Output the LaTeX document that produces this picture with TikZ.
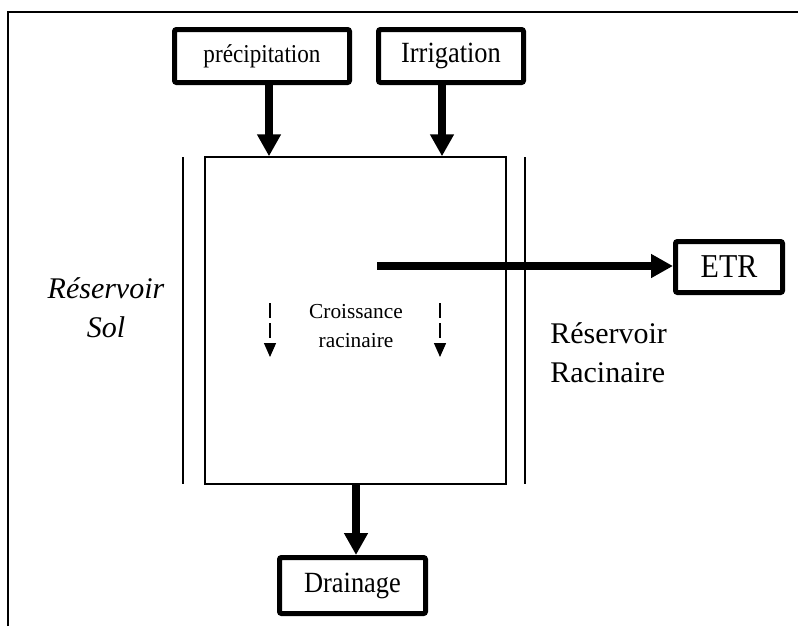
\documentclass[tikz,border=0pt]{standalone}
\usepackage{fontspec}
\setmainfont{Liberation Serif}
\newfontfamily\boxfont[FakeStretch=0.9]{Liberation Serif}
\usetikzlibrary{arrows.meta}
\begin{document}
\begin{tikzpicture}[x=0.75pt,y=-0.75pt,
  inbox/.style={draw,line width=3.75pt,rounded corners=1.5pt,inner sep=0pt,align=center},
  flow/.style={line width=6pt,-{Triangle[length=16.5pt,width=17pt]}},
  rootarrow/.style={line width=1pt,dash pattern=on 11.25pt off 3.75pt,-{Triangle[length=10.5pt,width=9pt]}},
  vline/.style={line width=1pt},
  lbl/.style={inner sep=0pt}]
\useasboundingbox (0,0) rectangle (798,626);
% frame
\draw[line width=1.5pt] (8,626) -- (8,12) -- (798,12);
% main reservoir
\node[draw,line width=1.1pt,minimum width=225.75pt,minimum height=245.25pt,inner sep=0pt] (main) at (355.5,320.5) {};
\coordinate (lt) at (183,157); \coordinate (lb) at (183,484);
\coordinate (rt) at (525,157); \coordinate (rb) at (525,484);
\draw[vline] (lt) -- (lb);
\draw[vline] (rt) -- (rb);
% input/output boxes
\node[inbox,minimum width=131.25pt,minimum height=39.75pt,font=\boxfont\fontsize{19.3}{22}\selectfont] (prec) at (262,56) {précipitation};
\node[inbox,minimum width=108.75pt,minimum height=39.75pt,font=\boxfont\fontsize{22}{24}\selectfont] (irr) at (451,56) {Irrigation};
\node[inbox,minimum width=80.25pt,minimum height=38.25pt,font=\boxfont\fontsize{25}{27}\selectfont] (etr) at (729,267) {ETR};
\node[inbox,minimum width=109.5pt,minimum height=42pt,font=\boxfont\fontsize{22}{24}\selectfont] (drain) at (352.5,585.5) {Drainage};
% arrow anchors
\coordinate (pA) at (269,0);
\coordinate (iA) at (442,0);
\coordinate (dA) at (356,0);
\coordinate (eS) at (377,266);
\draw[flow] (prec.south -| pA) -- (main.north -| pA);
\draw[flow] (irr.south -| iA) -- (main.north -| iA);
\draw[flow] (main.south -| dA) -- (drain.north -| dA);
\draw[flow] (eS) -- (eS -| etr.west);
% root growth arrows
\coordinate (g1a) at (270,303); \coordinate (g1b) at (270,357);
\coordinate (g2a) at (440,303); \coordinate (g2b) at (440,357);
\draw[rootarrow] (g1a) -- (g1b);
\draw[rootarrow] (g2a) -- (g2b);
% labels
\node[lbl,anchor=base,font=\fontsize{16}{18}\selectfont] (cr1) at (356,318) {Croissance};
\node[lbl,anchor=base,font=\fontsize{16}{18}\selectfont] (cr2) at (356,347) {racinaire};
\node[lbl,anchor=base,font=\itshape\fontsize{22.5}{26}\selectfont] (rs1) at (106,298) {Réservoir};
\node[lbl,anchor=base,font=\itshape\fontsize{22.5}{26}\selectfont] (rs2) at (106,337) {Sol};
\node[lbl,anchor=base west,font=\fontsize{22.5}{26}\selectfont] (rr1) at (550,343) {Réservoir};
\node[lbl,anchor=base west,font=\fontsize{22.5}{26}\selectfont] (rr2) at (550,382) {Racinaire};
\end{tikzpicture}
\end{document}
